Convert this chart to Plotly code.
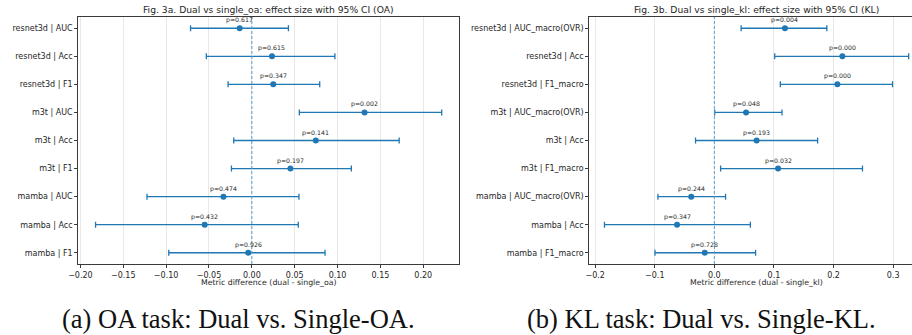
import plotly.graph_objects as go

# ---------------- data ----------------
labels_oa = ["resnet3d | AUC", "resnet3d | Acc", "resnet3d | F1",
             "m3t | AUC", "m3t | Acc", "m3t | F1",
             "mamba | AUC", "mamba | Acc", "mamba | F1"]
est_oa = [-0.0142, 0.0235, 0.0250, 0.1315, 0.0746, 0.0450, -0.0331, -0.0550, -0.0042]
lo_oa = [-0.0715, -0.0531, -0.0277, 0.0554, -0.0211, -0.0238, -0.1223, -0.1823, -0.0969]
hi_oa = [0.0427, 0.0969, 0.0792, 0.2215, 0.1719, 0.1161, 0.0550, 0.0542, 0.0854]
p_oa = ["0.617", "0.615", "0.347", "0.002", "0.141", "0.197", "0.474", "0.432", "0.926"]

labels_kl = ["resnet3d | AUC_macro(OVR)", "resnet3d | Acc", "resnet3d | F1_macro",
             "m3t | AUC_macro(OVR)", "m3t | Acc", "m3t | F1_macro",
             "mamba | AUC_macro(OVR)", "mamba | Acc", "mamba | F1_macro"]
est_kl = [0.1185, 0.2148, 0.2065, 0.0532, 0.0709, 0.1069, -0.0388, -0.0626, -0.0161]
lo_kl = [0.0449, 0.1013, 0.1107, 0.0006, -0.0316, 0.0105, -0.0947, -0.1844, -0.0997]
hi_kl = [0.1888, 0.3261, 0.2990, 0.1135, 0.1733, 0.2486, 0.0188, 0.0604, 0.0692]
p_kl = ["0.004", "0.000", "0.000", "0.048", "0.193", "0.032", "0.244", "0.347", "0.728"]

titles = ["Fig. 3a. Dual vs single_oa: effect size with 95% CI (OA)",
          "Fig. 3b. Dual vs single_kl: effect size with 95% CI (KL)"]
xtitles = ["Metric difference (dual - single_oa)", "Metric difference (dual - single_kl)"]
captions = ["(a) OA task: Dual vs. Single-OA.", "(b) KL task: Dual vs. Single-KL."]

# ---------------- layout constants ----------------
W, H = 912, 335
BLUE = "#1f77b4"
TXT = "#262626"
FONT = "DejaVu Sans"

def px(x):
    return x / W

def py(y):
    return 1 - y / H

fig = go.Figure()

panels = [
    dict(labels=labels_oa, est=est_oa, lo=lo_oa, hi=hi_oa, p=p_oa,
         xa="x", ya="y", dom=[px(69), px(454)], rng=[-0.2025, 0.2417],
         dtick=0.05, fmt=".2f", cx=261.5, mirror_y=True),
    dict(labels=labels_kl, est=est_kl, lo=lo_kl, hi=hi_kl, p=p_kl,
         xa="x2", ya="y2", dom=[px(585.7), 1.0], rng=[-0.2099, 0.3317],
         dtick=0.1, fmt=".1f", cx=755, mirror_y=False),
]

ydom = [py(264), py(17)]
annotations = []
shapes = []

for i, pn in enumerate(panels):
    n = len(pn["labels"])
    ys = list(range(n))
    plus = [h - e for h, e in zip(pn["hi"], pn["est"])]
    minus = [e - l for e, l in zip(pn["est"], pn["lo"])]
    fig.add_trace(go.Scatter(
        x=pn["est"], y=ys, mode="markers",
        marker=dict(color=BLUE, size=6),
        error_x=dict(type="data", array=plus, arrayminus=minus, symmetric=False,
                     color=BLUE, thickness=1.3, width=3),
        xaxis=pn["xa"], yaxis=pn["ya"], showlegend=False, hoverinfo="skip"))
    # zero reference line
    shapes.append(dict(type="line", xref=pn["xa"], yref=pn["ya"] + " domain",
                       x0=0, x1=0, y0=0, y1=1,
                       line=dict(color="#5a9fd4", width=1, dash="3px,2px"),
                       layer="above"))
    for e, yv, pv in zip(pn["est"], ys, pn["p"]):
        annotations.append(dict(x=e, y=yv, xref=pn["xa"], yref=pn["ya"],
                                text="p=" + pv, showarrow=False, yshift=8,
                                font=dict(family=FONT, size=6.2, color=TXT)))
    # title
    annotations.append(dict(x=px(pn["cx"]), y=py(9.5), xref="paper", yref="paper",
                            text=titles[i], showarrow=False, xanchor="center",
                            yanchor="middle",
                            font=dict(family=FONT, size=9.2, color=TXT)))
    # x axis title
    annotations.append(dict(x=px(pn["cx"]), y=py(282), xref="paper", yref="paper",
                            text=xtitles[i], showarrow=False, xanchor="center",
                            yanchor="middle",
                            font=dict(family=FONT, size=7.8, color=TXT)))
    xkey = "xaxis" if i == 0 else "xaxis2"
    ykey = "yaxis" if i == 0 else "yaxis2"
    fig.update_layout(**{
        xkey: dict(domain=pn["dom"], range=pn["rng"], anchor=pn["ya"],
                   tick0=0, dtick=pn["dtick"], tickformat=pn["fmt"],
                   showgrid=True, gridcolor="#e8e8e8", gridwidth=1,
                   zeroline=False, showline=True, linecolor="#3a3a3a", linewidth=1,
                   mirror=True, ticks="outside", ticklen=3, tickcolor="#3a3a3a",
                   tickfont=dict(family=FONT, size=8, color=TXT)),
        ykey: dict(domain=ydom, range=[n - 1 + 0.4, -0.4], anchor=pn["xa"],
                   tickvals=ys, ticktext=pn["labels"],
                   showgrid=False, zeroline=False, showline=True,
                   linecolor="#3a3a3a", linewidth=1, mirror=pn["mirror_y"],
                   ticks="outside", ticklen=3, tickcolor="#3a3a3a",
                   tickfont=dict(family=FONT, size=8, color=TXT)),
    })

# captions
for c, cx in zip(captions, [231, 699]):
    annotations.append(dict(x=px(cx), y=py(319), xref="paper", yref="paper",
                            text=c, showarrow=False, xanchor="center", yanchor="middle",
                            font=dict(family="Liberation Serif", size=26.5, color="#111")))

fig.update_layout(width=W, height=H, margin=dict(l=0, r=0, t=0, b=0),
                  paper_bgcolor="white", plot_bgcolor="white",
                  annotations=annotations, shapes=shapes)

fig.write_html("out.html")
